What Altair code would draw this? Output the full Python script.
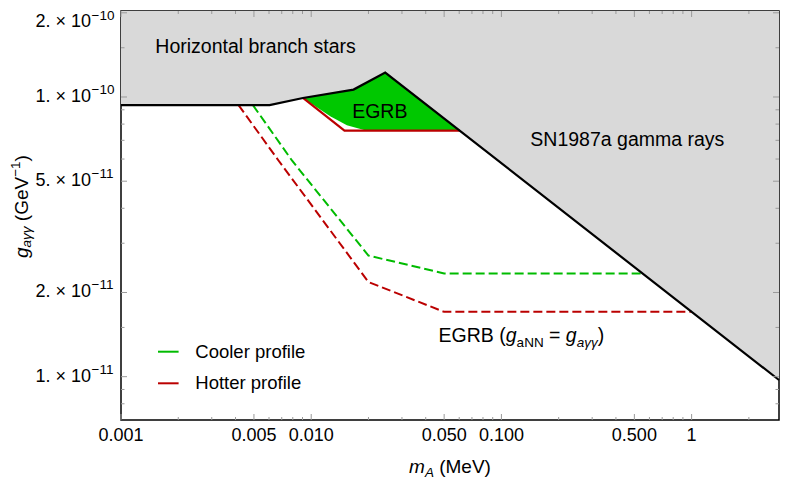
import altair as alt
import pandas as pd

# ---------------- data ----------------
# Upper excluded region boundary: horizontal-branch stars + SN1987a gamma rays
bound_m = [0.001, 0.00604, 0.00905, 0.0167, 0.0245, 2.88]
bound_g = [9.35e-11, 9.35e-11, 9.92e-11, 1.063e-10, 1.223e-10, 9.73e-12]
# EGRB filled region (lower edge)
egrb_fill_m = [0.00905, 0.01259, 0.0154, 0.0196, 0.0604]
egrb_fill_g = [9.92e-11, 8.53e-11, 7.92e-11, 7.58e-11, 7.58e-11]
# EGRB hotter-profile solid line
egrb_line_m = [0.00905, 0.01496, 0.0604]
egrb_line_g = [9.92e-11, 7.58e-11, 7.58e-11]
# EGRB (g_aNN = g_agg) dashed curves
cool_m = [0.00494, 0.00792, 0.02, 0.05, 0.56]
cool_g = [9.35e-11, 5.93e-11, 2.71e-11, 2.34e-11, 2.34e-11]
hot_m = [0.00415, 0.00673, 0.02, 0.05, 1.0]
hot_g = [9.35e-11, 5.93e-11, 2.18e-11, 1.705e-11, 1.705e-11]

X_MIN, X_MAX = 0.001, 2.88
Y_MIN, Y_MAX = 7.0e-12, 2.03e-10

x_major = [0.001, 0.005, 0.01, 0.05, 0.1, 0.5, 1]
x_major_labels = ["0.001", "0.005", "0.010", "0.050", "0.100", "0.500", "1"]
x_minor = [0.002, 0.003, 0.004, 0.006, 0.007, 0.008, 0.009,
           0.02, 0.03, 0.04, 0.06, 0.07, 0.08, 0.09,
           0.2, 0.3, 0.4, 0.6, 0.7, 0.8, 0.9, 2]
y_major = [1e-11, 2e-11, 5e-11, 1e-10, 2e-10]
y_major_mant = ["1. × 10", "2. × 10", "5. × 10", "1. × 10", "2. × 10"]
y_major_exp = ["−11", "−11", "−11", "−10", "−10"]
y_minor = [8e-12, 9e-12, 1.5e-11, 3e-11, 4e-11, 6e-11, 7e-11, 8e-11, 9e-11, 1.5e-10]

# ---------------- styling ----------------
W, H = 658, 409
FONT = "Liberation Sans"
GRAY = "#d9d9d9"
GREEN_FILL = "#00c800"
GREEN = "#00bb00"
RED = "#bb0000"
TICK = "#9a9a9a"

AW = {" ": 278, "(": 333, ")": 333, "=": 584, "a": 556, "b": 556, "c": 500, "e": 556,
      "g": 556, "m": 833, "n": 556, "A": 667, "B": 667, "E": 667, "G": 778, "M": 833,
      "N": 722, "R": 722, "V": 667, "γ": 500, "−": 584, "1": 556}


def tw(s, size):
    return sum(AW.get(c, 556) for c in s) / 1000.0 * size


xs = alt.Scale(type="log", domain=[X_MIN, X_MAX], nice=False)
ys = alt.Scale(type="log", domain=[Y_MIN, Y_MAX], nice=False)


def X(f):
    return alt.X(f"{f}:Q", scale=xs, axis=None)


def Y(f):
    return alt.Y(f"{f}:Q", scale=ys, axis=None)


layers = []

# green EGRB fill (drawn first; gray region covers everything above the boundary)
df_ef = pd.DataFrame({"m": egrb_fill_m, "g": egrb_fill_g, "top": Y_MAX})
layers.append(alt.Chart(df_ef).mark_area(color=GREEN_FILL, opacity=1).encode(
    x=X("m"), y=Y("g"), y2=alt.Y2("top:Q")))

# gray excluded region
df_b = pd.DataFrame({"m": bound_m, "g": bound_g, "top": Y_MAX})
layers.append(alt.Chart(df_b).mark_area(color=GRAY, opacity=1).encode(
    x=X("m"), y=Y("g"), y2=alt.Y2("top:Q")))

# dashed curves
for mm, gg, col in [(cool_m, cool_g, GREEN), (hot_m, hot_g, RED)]:
    d = pd.DataFrame({"m": mm, "g": gg})
    layers.append(alt.Chart(d).mark_line(color=col, strokeWidth=2, strokeDash=[9, 4]).encode(
        x=X("m"), y=Y("g")))

# EGRB solid red line
d = pd.DataFrame({"m": egrb_line_m, "g": egrb_line_g})
layers.append(alt.Chart(d).mark_line(color=RED, strokeWidth=2.2).encode(x=X("m"), y=Y("g")))

# boundary line
layers.append(alt.Chart(df_b).mark_line(color="black", strokeWidth=2.2).encode(x=X("m"), y=Y("g")))

# ---------------- frame ticks (inside, all four sides) ----------------
for vals, L in [(x_major, 6), (x_minor, 3)]:
    d = pd.DataFrame({"v": vals})
    layers.append(alt.Chart(d).mark_rule(color=TICK, strokeWidth=1).encode(
        x=X("v"), y=alt.value(H), y2=alt.value(H - L)))
    layers.append(alt.Chart(d).mark_rule(color=TICK, strokeWidth=1).encode(
        x=X("v"), y=alt.value(0), y2=alt.value(L)))
for vals, L in [(y_major, 6), (y_minor, 3.5)]:
    d = pd.DataFrame({"v": vals})
    layers.append(alt.Chart(d).mark_rule(color=TICK, strokeWidth=1).encode(
        y=Y("v"), x=alt.value(0), x2=alt.value(L)))
    layers.append(alt.Chart(d).mark_rule(color=TICK, strokeWidth=1).encode(
        y=Y("v"), x=alt.value(W), x2=alt.value(W - L)))

# ---------------- tick labels ----------------
d = pd.DataFrame({"v": x_major, "t": x_major_labels})
layers.append(alt.Chart(d).mark_text(font=FONT, fontSize=18, baseline="middle", align="center",
                                     color="black").encode(
    x=X("v"), y=alt.value(H + 16), text="t:N"))

d = pd.DataFrame({"v": y_major, "t": y_major_mant, "e": y_major_exp})
low = alt.datum.v < 1.9e-10
high = alt.datum.v >= 1.9e-10
for flt, dm, de in [(low, 0, -7), (high, 9, 3)]:
    base = alt.Chart(d).transform_filter(flt)
    layers.append(base.mark_text(font=FONT, fontSize=18, baseline="middle", align="right",
                                 dy=dm, color="black").encode(
        y=Y("v"), x=alt.value(-30), text="t:N"))
    layers.append(base.mark_text(font=FONT, fontSize=13.5, baseline="middle", align="left",
                                 dy=de, color="black").encode(
        y=Y("v"), x=alt.value(-29.5), text="e:N"))


# ---------------- text helpers ----------------
def txt(s, x, y, size, italic=False, align="left", baseline="alphabetic", angle=0):
    kw = dict(font=FONT, fontSize=size, align=align, baseline=baseline, color="black", text=s)
    if italic:
        kw["fontStyle"] = "italic"
    if angle:
        kw["angle"] = angle
    return alt.Chart(pd.DataFrame({"k": [0]})).mark_text(**kw).encode(
        x=alt.value(x), y=alt.value(y))


# x title: m_A (MeV)   (gap = width of a space, since SVG trims spaces)
parts = [("m", 19, True, 0, 0), ("A", 13.5, True, 4.5, 0), ("(MeV)", 19, False, 0, tw(" ", 19))]
total = sum(tw(p[0], p[1]) + p[4] for p in parts)
cx = W / 2 - total / 2
for s, sz, it, dy, gap in parts:
    cx += gap
    layers.append(txt(s, cx, 461.5 + dy, sz, italic=it))
    cx += tw(s, sz)

# y title: g_aγγ (GeV^-1), rotated
parts = [("g", 19, True, 0, 0), ("aγγ", 13.5, True, 5, 0), ("(GeV", 19, False, 0, tw(" ", 19)),
         ("−1", 13.5, False, -5.5, 0), (")", 19, False, 0, 0)]
cy = 247
for s, sz, it, dx, gap in parts:
    cy -= gap
    layers.append(txt(s, -99.5 + dx, cy, sz, italic=it, baseline="middle", angle=270))
    cy -= tw(s, sz)

# region labels
layers.append(txt("Horizontal branch stars", 34.3, 36, 19.5, baseline="middle"))
layers.append(txt("EGRB", 258.8, 100.7, 19.5, align="center", baseline="middle"))
layers.append(txt("SN1987a gamma rays", 409.3, 129, 19.5, baseline="middle"))

# EGRB (g_aNN = g_aγγ)
sp = tw(" ", 19.5)
parts = [("EGRB (", 19.5, False, 0, 0), ("g", 19.5, True, 0, 0), ("aNN", 13.5, False, 4.5, 0),
         ("=", 19.5, False, 0, sp), ("g", 19.5, True, 0, sp), ("aγγ", 13.5, True, 4.5, 0),
         (")", 19.5, False, 0, 0)]
cx = 317.6
for s, sz, it, dy, gap in parts:
    cx += gap
    layers.append(txt(s, cx, 331 + dy, sz, italic=it))
    cx += tw(s, sz)

# legend
for yy, col, lab in [(340.7, GREEN, "Cooler profile"), (372.3, RED, "Hotter profile")]:
    layers.append(alt.Chart(pd.DataFrame({"k": [0]})).mark_rule(color=col, strokeWidth=2).encode(
        x=alt.value(37), x2=alt.value(57.6), y=alt.value(yy)))
    layers.append(txt(lab, 74.3, yy, 18.5, baseline="middle"))

chart = alt.layer(*layers).properties(
    width=W, height=H,
    autosize=alt.AutoSizeParams(type="none"),
    padding={"left": 113, "top": 3, "right": 2, "bottom": 62},
).configure_view(stroke="black", strokeWidth=1.5)

chart.save("out.html", embed_options={"renderer": "svg", "actions": False})
